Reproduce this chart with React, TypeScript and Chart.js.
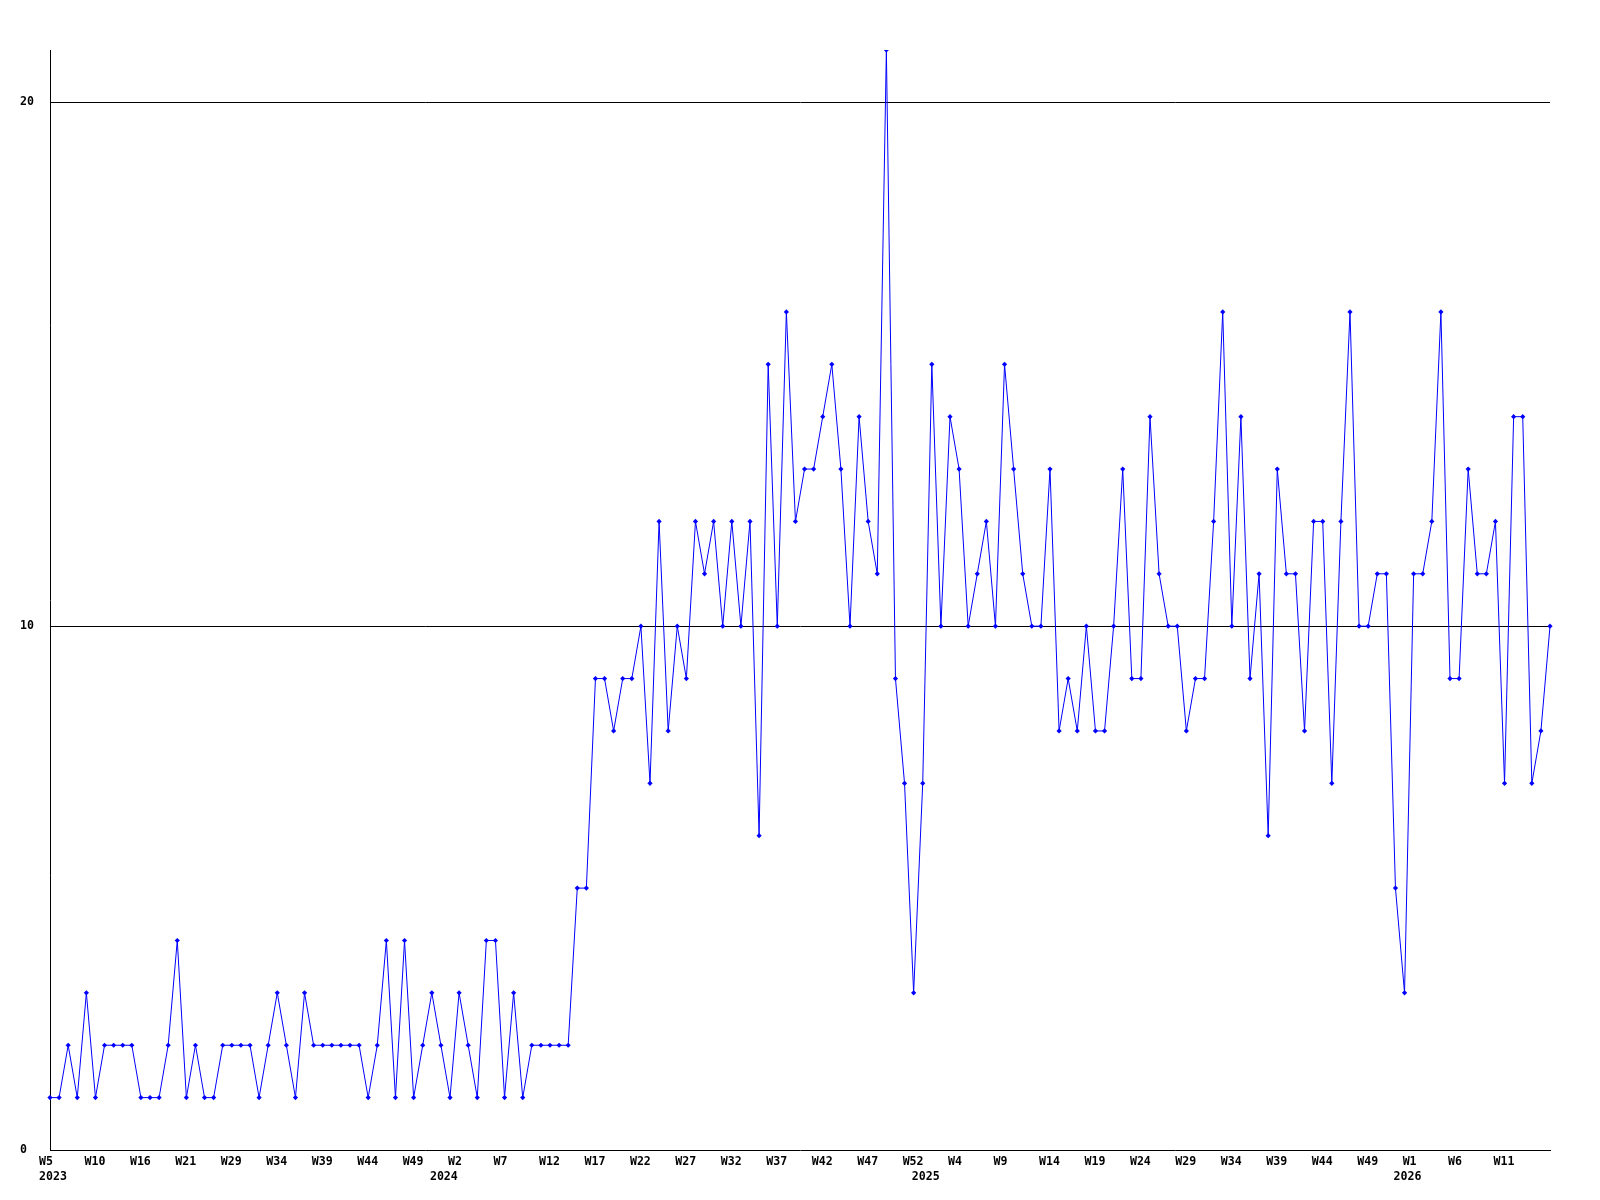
import React, { useEffect, useRef } from "react";
import { Chart, registerables } from "chart.js";

Chart.register(...registerables);

// one value per data row (166 rows, weekly)
const values: number[] = [
  1, 1, 2, 1, 3, 1, 2, 2, 2, 2, 1, 1, 1, 2, 4, 1, 2, 1, 1, 2, 2, 2, 2, 1, 2, 3, 2, 1, 3,
  2, 2, 2, 2, 2, 2, 1, 2, 4, 1, 4, 1, 2, 3, 2, 1, 3, 2, 1, 4, 4, 1, 3, 1, 2, 2, 2, 2, 2,
  5, 5, 9, 9, 8, 9, 9, 10, 7, 12, 8, 10, 9, 12, 11, 12, 10, 12, 10, 12, 6, 15, 10, 16,
  12, 13, 13, 14, 15, 13, 10, 14, 12, 11, 21, 9, 7, 3, 7, 15, 10, 14, 13, 10, 11, 12,
  10, 15, 13, 11, 10, 10, 13, 8, 9, 8, 10, 8, 8, 10, 13, 9, 9, 14, 11, 10, 10, 8, 9, 9,
  12, 16, 10, 14, 9, 11, 6, 13, 11, 11, 8, 12, 12, 7, 12, 16, 10, 10, 11, 11, 5, 3, 11,
  11, 12, 16, 9, 9, 13, 11, 11, 12, 7, 14, 14, 7, 8, 10,
];

// week labels shown on every 5th row
const weekTicks: string[] = [
  "W5", "W10", "W16", "W21", "W29", "W34", "W39", "W44", "W49", "W2", "W7",
  "W12", "W17", "W22", "W27", "W32", "W37", "W42", "W47", "W52", "W4", "W9",
  "W14", "W19", "W24", "W29", "W34", "W39", "W44", "W49", "W1", "W6", "W11",
];
const tickEvery = 5;

// year labels and the row where each year begins
const yearLabels: string[] = ["2023", "2024", "2025", "2026"];
const yearRows: number[] = [0, 43, 96, 149];

const yTicks: number[] = [0, 10, 20];

const categories: string[] = values.map((_, i) => String(i));

export default function App() {
  const ref = useRef<HTMLCanvasElement | null>(null);

  useEffect(() => {
    if (!ref.current) return;
    const font = { family: '"DejaVu Sans Mono", monospace', size: 11.6, weight: "bold" as const, lineHeight: 1.3 };
    const chart = new Chart(ref.current, {
      type: "line",
      data: {
        labels: categories,
        datasets: [
          {
            data: values,
            borderColor: "#0000ff",
            backgroundColor: "#0000ff",
            borderWidth: 1,
            tension: 0,
            pointStyle: "rectRot",
            pointRadius: 2.6,
            pointBackgroundColor: "#0000ff",
            pointBorderColor: "#0000ff",
            pointBorderWidth: 0,
          },
        ],
      },
      options: {
        animation: false,
        responsive: false,
        maintainAspectRatio: false,
        layout: { padding: { left: 20, right: 50, top: 50, bottom: 10 } },
        plugins: { legend: { display: false }, tooltip: { enabled: false }, title: { display: false } },
        scales: {
          x: {
            type: "category",
            offset: false,
            grid: { display: false, drawTicks: false },
            border: { display: true, color: "#000000", width: 1 },
            afterFit: (s: any) => {
              s.height = 40;
            },
            ticks: {
              autoSkip: false,
              maxRotation: 0,
              minRotation: 0,
              align: "start",
              labelOffset: -11,
              padding: 4,
              color: "#000000",
              font,
              callback: (_v: any, i: number) => {
                const wk = i % tickEvery === 0 ? weekTicks[i / tickEvery] ?? "" : "";
                const yi = yearRows.indexOf(i);
                if (yi >= 0) return [wk, yearLabels[yi]];
                return wk;
              },
            },
          },
          y: {
            min: 0,
            max: 21,
            grid: {
              drawTicks: false,
              color: (ctx: any) =>
                ctx.tick && (ctx.tick.value === 10 || ctx.tick.value === 20) ? "#000000" : "rgba(0,0,0,0)",
              lineWidth: 1,
            },
            border: { display: true, color: "#000000", width: 1 },
            afterFit: (s: any) => {
              s.width = 30;
            },
            afterBuildTicks: (s: any) => {
              s.ticks = yTicks.map((v) => ({ value: v }));
            },
            ticks: {
              crossAlign: "far",
              padding: 0,
              color: "#000000",
              font: { ...font, lineHeight: 1.2 },
              callback: (v: any) => String(v),
            },
          },
        },
      },
    });
    return () => chart.destroy();
  }, []);

  return (
    <div style={{ position: "fixed", left: 0, top: 0, width: 1600, height: 1200, background: "#ffffff" }}>
      <canvas ref={ref} width={1600} height={1200} style={{ width: 1600, height: 1200, display: "block" }} />
    </div>
  );
}
